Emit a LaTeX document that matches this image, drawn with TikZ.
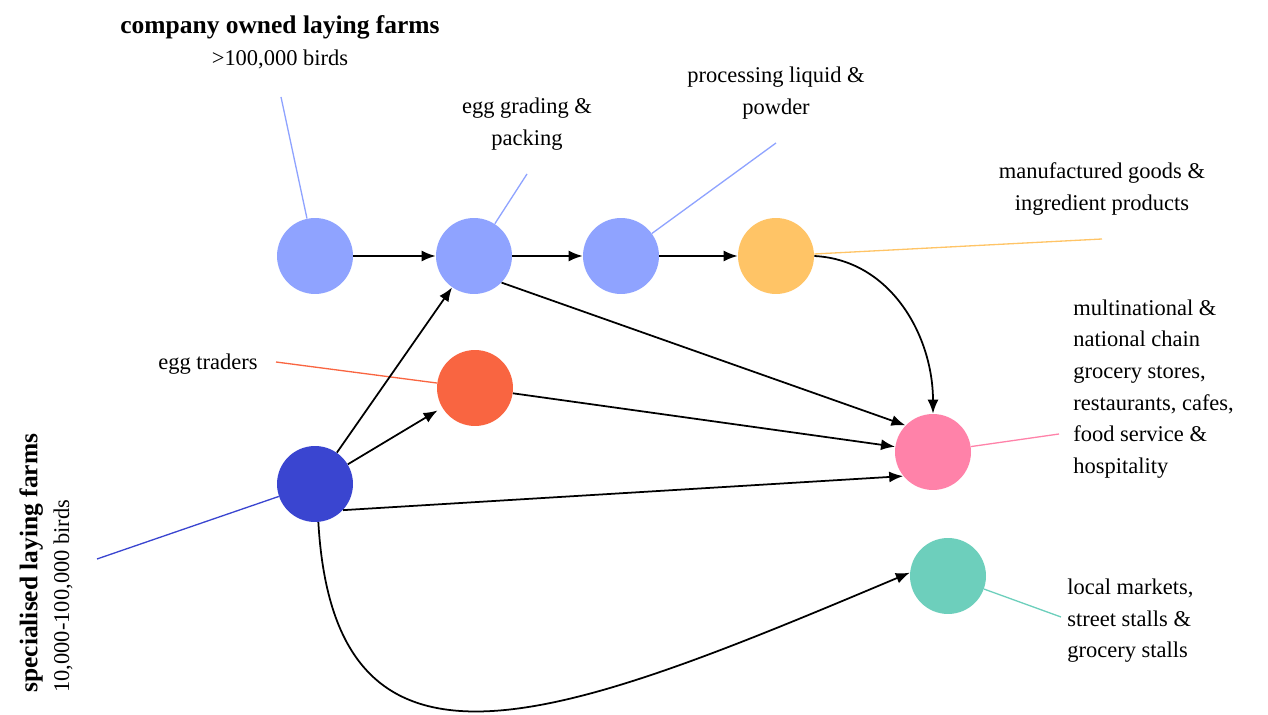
\documentclass[tikz,border=0pt]{standalone}
\usepackage{fontspec}
\setmainfont{Liberation Serif}
\usepackage{xcolor}
\usepackage{tikz}
\usetikzlibrary{arrows.meta, positioning}
\definecolor{farmblue}{RGB}{143,163,255}
\definecolor{specblue}{RGB}{58,69,208}
\definecolor{goodsorange}{RGB}{255,196,102}
\definecolor{traderred}{RGB}{249,101,65}
\definecolor{retailpink}{RGB}{255,130,169}
\definecolor{marketteal}{RGB}{109,207,188}
\newcommand{\headline}[1]{{\fontsize{14.5}{18}\selectfont\bfseries #1}}

\begin{document}
\begin{tikzpicture}[x=0.02cm, y=-0.02cm,
    stage/.style={circle, minimum size=1.52cm, inner sep=0pt},
    flow/.style={-{Latex[length=2.8mm, width=2.2mm]}, line width=1pt},
    tag/.style={line width=0.75pt},
    lbl/.style={font=\fontsize{12.8}{18}\selectfont, inner sep=0pt}]
                % frame of the picture
                \useasboundingbox (0,0) rectangle (1268,715);

                % stages of the supply chain
                \node[stage, fill=farmblue] (farm) at (315,256) {};
                \node[stage, fill=farmblue] (grade) at (474,256) {};
                \node[stage, fill=farmblue] (proc) at (621,256) {};
                \node[stage, fill=goodsorange] (goods) at (776,256) {};
                \node[stage, fill=traderred] (trader) at (475,388) {};
                \node[stage, fill=specblue] (spec) at (315,484) {};
                \node[stage, fill=retailpink] (retail) at (933,452) {};
                \node[stage, fill=marketteal] (market) at (948,576) {};

                % labels
                \node[lbl, align=center] (farmtxt) at (280,42) {\headline{company owned laying farms}\\>100,000 birds};
                \node[lbl, align=center] (gradetxt) at (527,124) {egg grading \&\\packing};
                \node[lbl, align=center] (proctxt) at (776,93) {processing liquid \&\\powder};
                \node[lbl, align=center] (goodstxt) at (1102,189) {manufactured goods \&\\ingredient products};
                \node[lbl, anchor=east] (tradertxt) at (258,364) {egg traders};
                \node[lbl, align=left, rotate=90, anchor=west] (spectxt) at (46,693) {\headline{specialised laying farms}\\10,000-100,000 birds};
                \node[lbl, align=left, anchor=west] (retailtxt) at (1073,389) {multinational \&\\national chain\\grocery stores,\\restaurants, cafes,\\food service \&\\hospitality};
                \node[lbl, align=left, anchor=west] (markettxt) at (1067,621) {local markets,\\street stalls \&\\grocery stalls};

                % free ends of the label lines
                \coordinate (farmend) at (281,97);
                \coordinate (gradeend) at (527,174);
                \coordinate (procend) at (776,143);
                \coordinate (goodsend) at (1102,239);
                \coordinate (traderend) at (276,362);
                \coordinate (specend) at (97,559);
                \coordinate (retailend) at (1059,434);
                \coordinate (marketend) at (1061,617);

                \draw[tag, farmblue] (farmend) -- (farm);
                \draw[tag, farmblue] (gradeend) -- (grade);
                \draw[tag, farmblue] (procend) -- (proc);
                \draw[tag, goodsorange] (goodsend) -- (goods);
                \draw[tag, traderred] (traderend) -- (trader);
                \draw[tag, specblue] (specend) -- (spec);
                \draw[tag, retailpink] (retailend) -- (retail);
                \draw[tag, marketteal] (marketend) -- (market);

                % flows of eggs
                \draw[flow] (farm) -- (grade);
                \draw[flow] (grade) -- (proc);
                \draw[flow] (proc) -- (goods);
                \draw[flow] (goods.east) to[out=-3, in=90] (retail.north);
                \draw[flow] (grade.-44) -- (retail.136);
                \draw[flow] (trader) -- (retail);
                \draw[flow] (spec) -- (grade);
                \draw[flow, shorten >=3pt] (spec) -- (trader);
                \draw[flow] (spec.-43) -- (retail.-141);
                \draw[flow] (spec.-85) .. controls (335,810) and (560,720) .. (market.175);
            \end{tikzpicture}
\end{document}
